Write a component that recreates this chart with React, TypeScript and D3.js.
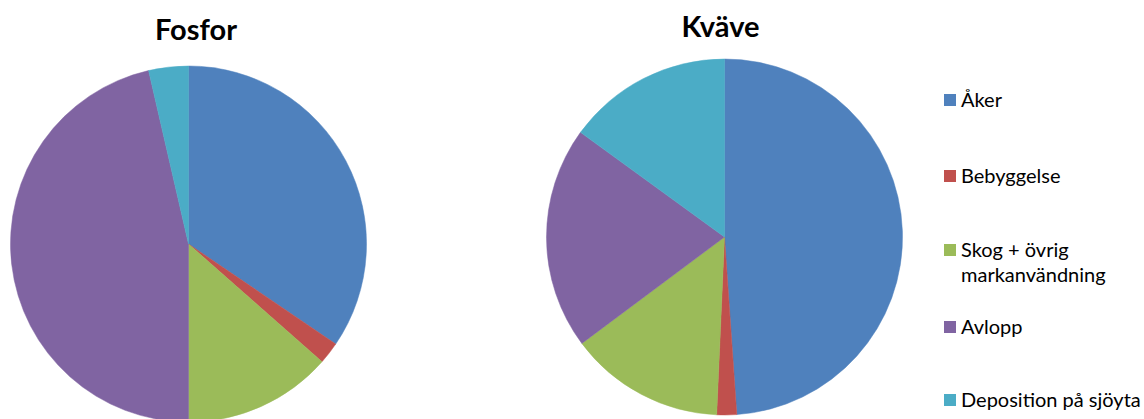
import React from "react";
import * as d3 from "d3";

const categories = ["Åker", "Bebyggelse", "Skog + övrig markanvändning", "Avlopp", "Deposition på sjöyta"];
const legendLines = [["Åker"], ["Bebyggelse"], ["Skog + övrig", "markanvändning"], ["Avlopp"], ["Deposition på sjöyta"]];
const fosforValues = [34.5, 2.0, 13.5, 46.4, 3.6];
const kvaveValues = [48.9, 1.8, 14.1, 20.2, 15.0];
const colors = ["#4F81BD", "#C0504D", "#9BBB59", "#8064A2", "#4BACC6"];

const FONT = "Lato, 'Open Sans', sans-serif";

function Pie({ values, cx, cy, r, title, tx, ty }: { values: number[]; cx: number; cy: number; r: number; title: string; tx: number; ty: number }) {
  const pie = d3.pie<number>().sort(null).value((d) => d);
  const arc = d3.arc<d3.PieArcDatum<number>>().innerRadius(0).outerRadius(r);
  const arcs = pie(values);
  return (
    <g>
      <g transform={`translate(${cx},${cy})`}>
        {arcs.map((a, i) => (
          <path key={i} d={arc(a) || ""} fill={colors[i]} stroke={colors[i]} strokeWidth={0.5} />
        ))}
      </g>
      <text x={tx} y={ty} textAnchor="middle" fontFamily={FONT} fontWeight="bold" fontSize={29} fill="#000">
        {title}
      </text>
    </g>
  );
}

export default function App() {
  const legendY = [100, 176, 250, 327, 400];
  return (
    <svg width={1144} height={419} style={{ position: "absolute", left: 0, top: 0, display: "block" }}>
      <rect width={1144} height={419} fill="#fff" />
      <Pie values={fosforValues} cx={188.5} cy={244} r={178} title="Fosfor" tx={196} ty={40} />
      <Pie values={kvaveValues} cx={724.5} cy={237} r={178} title="Kväve" tx={720.5} ty={37} />
      {categories.map((c, i) => (
        <g key={c}>
          <rect x={944} y={legendY[i] - 6} width={12} height={12} fill={colors[i]} />
          {legendLines[i].map((l, j) => (
            <text key={j} x={961} y={legendY[i] + 7 + j * 25} fontFamily={FONT} fontSize={20} fill="#000">
              {l}
            </text>
          ))}
        </g>
      ))}
    </svg>
  );
}
